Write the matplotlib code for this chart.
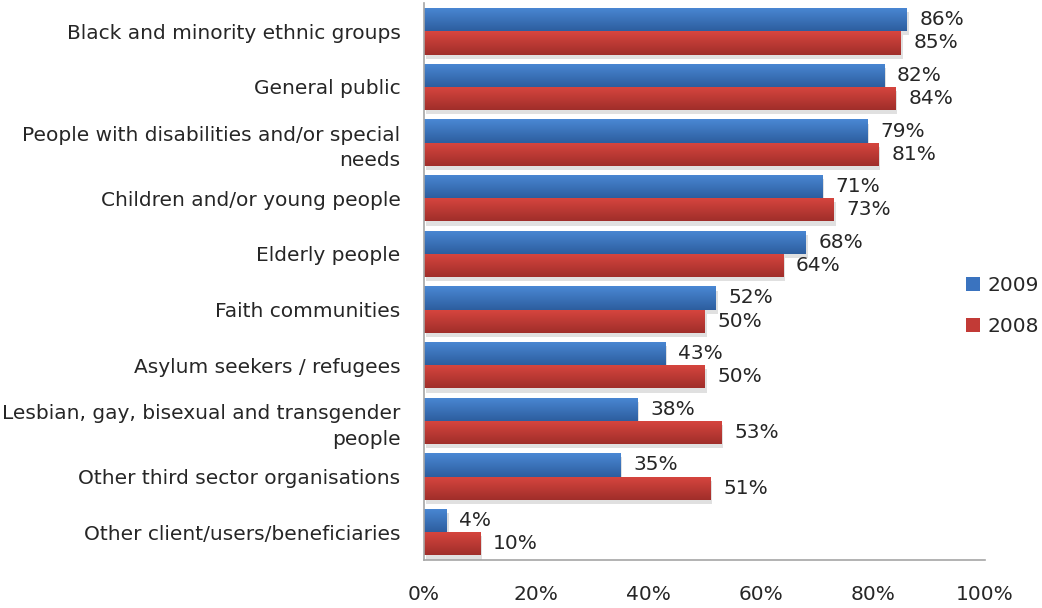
import numpy as np
import matplotlib
matplotlib.use('Agg')
import matplotlib.pyplot as plt
from matplotlib import patheffects as pe
from matplotlib.colors import to_rgb
from matplotlib.patches import Patch

categories = ['Black and minority ethnic groups',
              'General public',
              'People with disabilities and/or special\nneeds',
              'Children and/or young people',
              'Elderly people',
              'Faith communities',
              'Asylum seekers / refugees',
              'Lesbian, gay, bisexual and transgender\npeople',
              'Other third sector organisations',
              'Other client/users/beneficiaries']
pct_2009 = [86, 82, 79, 71, 68, 52, 43, 38, 35, 4]
pct_2008 = [85, 84, 81, 73, 64, 50, 50, 53, 51, 10]
xticks = [0, 20, 40, 60, 80, 100]

plt.rcParams['font.family'] = ['DejaVu Sans']
txt = '#262626'
fs = 14.5

fig = plt.figure(figsize=(10.42, 6.08), dpi=100)
ax = fig.add_axes([424/1042, 48/608, 561/1042, 556.5/608])

y = np.arange(len(categories))
h = 0.417
shadow = [pe.SimplePatchShadow(offset=(1.5, -3), shadow_rgbFace='#9a9a9a', alpha=0.3),
          pe.Normal()]
b09 = ax.barh(y - h/2, pct_2009, height=h, color='#3a73bf', path_effects=shadow)
b08 = ax.barh(y + h/2, pct_2008, height=h, color='#c23a36', path_effects=shadow)

# vertical gradient on each bar, light at top and dark at bottom
def shade(bars, top, bottom):
    t = np.array(to_rgb(top))
    b = np.array(to_rgb(bottom))
    f = np.linspace(0, 1, 64)[:, None]
    grad = (t * (1 - f) + b * f)[:, None, :]
    for p in bars:
        x0, y0 = p.get_x(), p.get_y()
        im = ax.imshow(grad, extent=(x0, x0 + p.get_width(), y0 + p.get_height(), y0),
                       origin='upper', aspect='auto', zorder=2.5)
        im.set_clip_path(p)

shade(b09, '#4a88d4', '#2d5e9f')
shade(b08, '#d8463f', '#a02e2a')

for bars, vals in ((b09, pct_2009), (b08, pct_2008)):
    for p, v in zip(bars, vals):
        ax.annotate(f'{v}%', (v, p.get_y() + p.get_height()/2), xytext=(13, 0),
                    textcoords='offset pixels', va='center', ha='left',
                    fontsize=fs, color=txt)

ax.set_xlim(0, 100)
ax.set_ylim(len(categories) - 0.5, -0.5)
ax.set_xticks(xticks)
ax.set_xticklabels([f'{t}%' for t in xticks])
ax.set_yticks(y)
ax.set_yticklabels(categories, linespacing=1.45)
ax.tick_params(axis='x', length=0, pad=18, labelsize=fs, colors=txt)
ax.tick_params(axis='y', length=0, pad=17, labelsize=fs, colors=txt)
for s in ('top', 'right'):
    ax.spines[s].set_visible(False)
for s in ('left', 'bottom'):
    ax.spines[s].set_color('#a6a6a6')
    ax.spines[s].set_linewidth(1.2)

handles = [Patch(facecolor='#3a73bf', label='2009'), Patch(facecolor='#c23a36', label='2008')]
fig.legend(handles=handles, loc='center left', bbox_to_anchor=(966/1042, 1 - 306/608),
           frameon=False, fontsize=fs, handlelength=0.7, handleheight=0.7,
           handletextpad=0.35, labelspacing=1.1, borderpad=0, borderaxespad=0,
           labelcolor=txt)

fig.savefig('out.png', dpi=100)
